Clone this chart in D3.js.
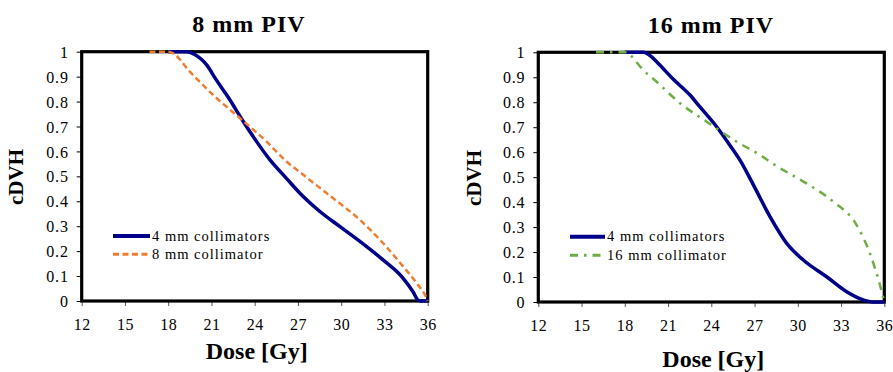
<!DOCTYPE html>
<html>
<head>
<meta charset="utf-8">
<script src="https://cdn.jsdelivr.net/npm/d3@7"></script>
<style>
  html, body { margin: 0; padding: 0; background: #fff; }
  svg { display: block; }
  text { font-family: "Liberation Serif", "Times New Roman", serif; fill: #000; }
</style>
</head>
<body>
<svg id="chart" width="893" height="372"></svg>
<script>
// ---- data ----
const xTicks = [12, 15, 18, 21, 24, 27, 30, 33, 36];
const yTicks = [0, 0.1, 0.2, 0.3, 0.4, 0.5, 0.6, 0.7, 0.8, 0.9, 1];
const yTickLabels = ["0", "0.1", "0.2", "0.3", "0.4", "0.5", "0.6", "0.7", "0.8", "0.9", "1"];
const panelTitles = ["8 mm PIV", "16 mm PIV"];
const xAxisTitle = "Dose [Gy]";
const yAxisTitle = "cDVH";

// 8 mm PIV panel
const pivA_4mm_dose = [18, 19.3, 19.8, 20.67, 21.3, 22.06, 23.44, 25.06, 26.2, 27.14, 28.5, 29.92, 31.5, 32.92, 34.3, 35.0, 35.3, 35.5, 36];
const pivA_4mm_cdvh = [1, 1, 0.99, 0.947, 0.89, 0.826, 0.699, 0.566, 0.492, 0.432, 0.36, 0.298, 0.23, 0.164, 0.091, 0.035, 0.005, 0, 0];
const pivA_8mm_dose = [16.7, 18.0, 18.35, 19.5, 21.13, 22.98, 24.83, 26.1, 27.5, 29.0, 31.3, 32.92, 34.3, 35.24, 35.93, 36];
const pivA_8mm_cdvh = [1, 1, 0.993, 0.92, 0.826, 0.733, 0.639, 0.565, 0.5, 0.432, 0.325, 0.231, 0.138, 0.071, 0.01, 0];

// 16 mm PIV panel
const pivB_4mm_dose = [18, 19.28, 19.8, 20.21, 21.4, 22.52, 23.2, 24.37, 25.3, 26.0, 26.91, 28.07, 29.23, 30.38, 32.0, 33.39, 34.55, 35.2, 36];
const pivB_4mm_cdvh = [1, 1, 0.985, 0.962, 0.89, 0.829, 0.782, 0.702, 0.627, 0.567, 0.47, 0.342, 0.235, 0.168, 0.101, 0.041, 0.008, 0, 0];
const pivB_16mm_dose = [16, 18.2, 18.59, 19.28, 20.21, 21.83, 23.68, 25.76, 27.38, 28.4, 30.6, 32.46, 34.08, 35.0, 35.7, 36];
const pivB_16mm_cdvh = [1, 1, 0.976, 0.929, 0.882, 0.796, 0.722, 0.642, 0.589, 0.549, 0.475, 0.402, 0.308, 0.195, 0.068, 0];

const seriesNames = ["4 mm collimators", "8 mm collimator", "16 mm collimator"];

// ---- build ----
const zip = (xs, ys) => xs.map((x, i) => ({ x, y: ys[i] }));

const panels = [
  {
    title: panelTitles[0], titleX: 249, titleY: 32,
    left: 81.7, right: 427.7, top: 51.7, bottom: 301,
    yLabelX: 16, yLabelY: 177, xTitleY: 359, xTickY: 330,
    legend: { x1: 113, x2: 150, y: 236, dy: 18.3, tx: 152 },
    series: [
      { name: seriesNames[0], data: zip(pivA_4mm_dose, pivA_4mm_cdvh), color: "#00008B", width: 3.5, dash: null },
      { name: seriesNames[1], data: zip(pivA_8mm_dose, pivA_8mm_cdvh), color: "#ED7D31", width: 2.5, dash: "6,3.5" }
    ]
  },
  {
    title: panelTitles[1], titleX: 711, titleY: 33,
    left: 538.3, right: 884.3, top: 52.3, bottom: 302,
    yLabelX: 474, yLabelY: 178, xTitleY: 367, xTickY: 331,
    legend: { x1: 570, x2: 605, y: 236.7, dy: 18.6, tx: 607 },
    series: [
      { name: seriesNames[0], data: zip(pivB_4mm_dose, pivB_4mm_cdvh), color: "#00008B", width: 3.5, dash: null },
      { name: seriesNames[2], data: zip(pivB_16mm_dose, pivB_16mm_cdvh), color: "#70AD47", width: 2.5, dash: "8,6,2.5,6" }
    ]
  }
];

const svg = d3.select("#chart");

panels.forEach(p => {
  const g = svg.append("g");
  const x = d3.scaleLinear().domain([12, 36]).range([p.left, p.right]);
  const y = d3.scaleLinear().domain([0, 1]).range([p.bottom, p.top]);

  // x axis ticks
  const xAxis = g.append("g")
    .attr("transform", `translate(0,${p.bottom})`)
    .call(d3.axisBottom(x).tickValues(xTicks).tickSize(5).tickFormat(d3.format("d")));
  xAxis.select(".domain").remove();
  xAxis.selectAll(".tick line").attr("stroke", "#555").attr("stroke-width", 1);
  xAxis.selectAll(".tick text")
    .attr("y", null).attr("dy", null)
    .attr("transform", `translate(0,${p.xTickY - p.bottom})`)
    .style("font-size", "16px")
    .style("letter-spacing", "0.5px")
    .attr("fill", "#000");

  // y axis ticks
  const yAxis = g.append("g")
    .attr("transform", `translate(${p.left},0)`)
    .call(d3.axisLeft(y).tickValues(yTicks).tickSize(5).tickFormat((d, i) => yTickLabels[i]));
  yAxis.select(".domain").remove();
  yAxis.selectAll(".tick line").attr("stroke", "#000").attr("stroke-width", 1);
  yAxis.selectAll(".tick text")
    .attr("x", -13)
    .attr("dy", "0.35em")
    .style("font-size", "16px")
    .style("letter-spacing", "0.8px")
    .attr("fill", "#000");

  // frame
  g.append("rect")
    .attr("x", p.left).attr("y", p.top)
    .attr("width", p.right - p.left).attr("height", p.bottom - p.top)
    .attr("fill", "none").attr("stroke", "#000").attr("stroke-width", 3.2);

  // lines
  const line = d3.line().x(d => x(d.x)).y(d => y(d.y)).curve(d3.curveMonotoneX);
  p.series.forEach(s => {
    g.append("path")
      .datum(s.data)
      .attr("d", line)
      .attr("fill", "none")
      .attr("stroke", s.color)
      .attr("stroke-width", s.width)
      .attr("stroke-dasharray", s.dash)
      .attr("stroke-linejoin", "round");
  });

  // legend
  p.series.forEach((s, i) => {
    const ly = p.legend.y + i * p.legend.dy;
    g.append("line")
      .attr("x1", p.legend.x1).attr("x2", p.legend.x2)
      .attr("y1", ly).attr("y2", ly)
      .attr("stroke", s.color).attr("stroke-width", s.width + 0.5)
      .attr("stroke-dasharray", s.dash);
    g.append("text")
      .attr("x", p.legend.tx).attr("y", ly + 4.5)
      .style("font-size", "14.5px")
      .style("letter-spacing", "1px")
      .text(s.name);
  });

  // titles
  g.append("text")
    .attr("x", p.titleX).attr("y", p.titleY)
    .attr("text-anchor", "middle")
    .style("font-size", "24px").style("font-weight", "bold")
    .style("letter-spacing", "1px")
    .text(p.title);

  g.append("text")
    .attr("x", (p.left + p.right) / 2 + 2).attr("y", p.xTitleY)
    .attr("text-anchor", "middle")
    .style("font-size", "24px").style("font-weight", "bold")
    .text(xAxisTitle);

  g.append("text")
    .attr("transform", `translate(${p.yLabelX + 7},${p.yLabelY}) rotate(-90)`)
    .attr("text-anchor", "middle")
    .style("font-size", "21px").style("font-weight", "bold")
    .text(yAxisTitle);
});
</script>
</body>
</html>
